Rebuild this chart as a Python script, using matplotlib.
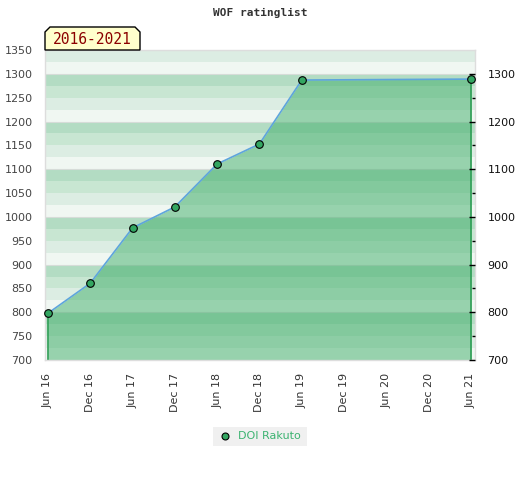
import matplotlib
matplotlib.use("Agg")
import matplotlib.pyplot as plt
from matplotlib.patches import Polygon, Rectangle
from matplotlib.lines import Line2D
import numpy as np

# ---- data ----
tick_labels = ["Jun 16", "Dec 16", "Jun 17", "Dec 17", "Jun 18", "Dec 18",
               "Jun 19", "Dec 19", "Jun 20", "Dec 20", "Jun 21"]
point_idx = [0, 1, 2, 3, 4, 5, 6, 10]          # positions among tick_labels
ratings = [798, 861, 977, 1021, 1111, 1153, 1287, 1289]
series_name = "DOI Rakuto"
title = "WOF ratinglist"
period = "2016-2021"
left_ticks = list(range(700, 1351, 50))
right_ticks = list(range(700, 1301, 100))

W, H = 520, 480
fig = plt.figure(figsize=(W / 100, H / 100), dpi=100)
L, R, T, B = 45, 475, 50, 360
ax = fig.add_axes([L / W, 1 - B / H, (R - L) / W, (B - T) / H])

ymin, ymax = 700, 1350
ax.set_ylim(ymin, ymax)
ax.set_xlim(-0.07, len(tick_labels) - 1 + 0.095)

# background stripes (period 100, bands of 25)
band_colors = ["#f0f7f2", "#dcede3", "#c8e6d2", "#b3dcc3"]  # x00-x25, x25-x50, x50-x75, x75-x00
for y0 in range(ymin, ymax, 25):
    c = band_colors[(y0 % 100) // 25]
    ax.axhspan(y0, y0 + 25, color=c, lw=0, zorder=0)
for y in range(ymin, ymax + 1, 100):
    ax.axhline(y, color="#d6dcd8", lw=0.8, zorder=0.5)

# area fill
ax.fill_between(point_idx, ratings, ymin, color="#3fae69", alpha=0.5, lw=0, zorder=1)
ax.plot([point_idx[0], point_idx[0]], [ymin, ratings[0]], color="#2e9e55", lw=1.2, zorder=2)
ax.plot([point_idx[-1], point_idx[-1]], [ymin, ratings[-1]], color="#2e9e55", lw=1.2, zorder=2)
ax.plot(point_idx, ratings, color="#5ea5dc", lw=1.2, zorder=3)
ax.plot(point_idx, ratings, ls="none", marker="o", ms=5.5, mfc="#33a661",
        mec="black", mew=0.8, zorder=4, clip_on=False)

# axes styling
for s in ax.spines.values():
    s.set_color("#dddddd")
    s.set_linewidth(1)
ax.set_yticks(left_ticks)
ax.tick_params(axis="y", length=0, pad=9, labelsize=8, labelcolor="#444444")
ax.set_xticks(range(len(tick_labels)))
ax.set_xticklabels(tick_labels, rotation=90)
ax.tick_params(axis="x", length=0, pad=9, labelsize=8, labelcolor="#333333")

ax2 = ax.twinx()
ax2.set_ylim(ymin, ymax)
ax2.set_yticks(right_ticks)
ax2.set_yticks(list(range(750, 1301, 100)), minor=True)
ax2.tick_params(axis="y", which="major", direction="in", length=4, width=1,
                color="black", labelsize=8, labelcolor="#111111", pad=9)
ax2.tick_params(axis="y", which="minor", direction="in", length=2.5, width=1, color="black")
for s in ax2.spines.values():
    s.set_visible(False)

# title
fig.text(260 / W, 1 - 13 / H, title, ha="center", va="center",
         family="DejaVu Sans Mono", fontsize=8, fontweight="bold", color="#333333")

# period badge
bx0, bx1, by0, by1, cut = 45, 140, 50, 27, 5
pts = [(bx0, by0), (bx0, by1 + cut), (bx0 + cut, by1), (bx1 - cut, by1),
       (bx1, by1 + cut), (bx1, by0)]
pts = [(x / W, 1 - y / H) for x, y in pts]
fig.patches.append(Polygon(pts, closed=True, transform=fig.transFigure,
                           facecolor="#ffffcc", edgecolor="black", lw=1, zorder=5))
fig.text(92 / W, 1 - 40 / H, period, ha="center", va="center",
         family="DejaVu Sans Mono", fontsize=10.5, color="#8b0000", zorder=6)

# legend
fig.patches.append(Rectangle((213 / W, 1 - 446 / H), 94 / W, 19 / H,
                             transform=fig.transFigure, facecolor="#f0f0f0",
                             edgecolor="none", zorder=5))
fig.lines.append(Line2D([225 / W], [1 - 436 / H], transform=fig.transFigure,
                        ls="none", marker="o", ms=5, mfc="#33a661", mec="black",
                        mew=0.8, zorder=6))
fig.text(238 / W, 1 - 436 / H, series_name, ha="left", va="center",
         fontsize=8, color="#3cb371", zorder=6)

fig.savefig("out.png", dpi=100)
